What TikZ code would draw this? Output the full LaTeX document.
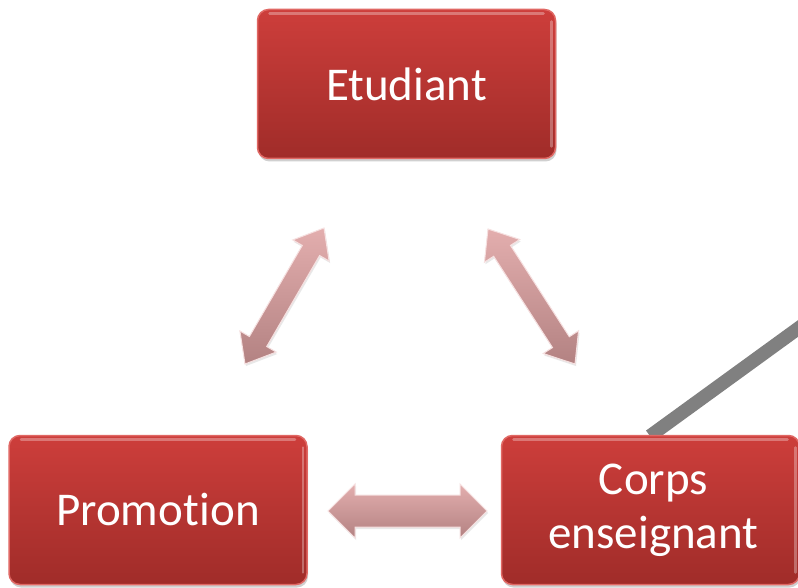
\documentclass[tikz,border=0pt]{standalone}
\usepackage{fontspec}
\setmainfont[RawFeature={-liga;-clig;-calt;-dlig}]{Carlito}
\usetikzlibrary{calc,shadows}
\definecolor{boxtop}{HTML}{CD3E3B}
\definecolor{boxbot}{HTML}{A02C29}
\definecolor{boxedge}{HTML}{E06864}
\definecolor{arrtop}{HTML}{E3AEAE}
\definecolor{arrbot}{HTML}{B38282}
\definecolor{arredge}{HTML}{F6E0E0}
\definecolor{linegray}{HTML}{808080}
\newcommand\dblarr[5]{%
  \path[arrowshape] (#1) -- ($(#1)!#5!(#2)!#4!90:(#2)$) -- ($(#1)!#5!(#2)!#3!90:(#2)$)
    -- ($(#2)!#5!(#1)!#3!-90:(#1)$) -- ($(#2)!#5!(#1)!#4!-90:(#1)$) -- (#2)
    -- ($(#2)!#5!(#1)!#4!90:(#1)$) -- ($(#2)!#5!(#1)!#3!90:(#1)$)
    -- ($(#1)!#5!(#2)!#3!-90:(#2)$) -- ($(#1)!#5!(#2)!#4!-90:(#2)$) -- cycle;}
\begin{document}
\begin{tikzpicture}[x=1pt,y=-1pt,
  box/.style={rectangle, rounded corners=11pt, minimum width=298pt, minimum height=149pt,
    inner sep=0pt, top color=boxtop, bottom color=boxbot, draw=boxedge, line width=1.5pt,
    text=white, font=\fontsize{47}{54}\selectfont, align=center,
    drop shadow={shadow xshift=1pt, shadow yshift=-3pt, opacity=0.3, fill=black!60},
    path picture={
      \draw[white, opacity=0.3, line width=2.5pt, line cap=round]
        ([xshift=12pt,yshift=-4pt]path picture bounding box.north west) --
        ([xshift=-12pt,yshift=-4pt]path picture bounding box.north east);
      \draw[white, opacity=0.3, line width=2.5pt, line cap=round]
        ([xshift=-4pt,yshift=-12pt]path picture bounding box.north east) --
        ([xshift=-4pt,yshift=12pt]path picture bounding box.south east);}},
  arrowshape/.style={top color=arrtop, bottom color=arrbot, draw=arredge, line width=1pt,
    drop shadow={shadow xshift=1pt, shadow yshift=-2pt, opacity=0.15, fill=black!60}}]
\clip (0,0) rectangle (798,588);
\fill[white] (0,0) rectangle (798,588);
% gray line
\coordinate (g1) at (650,436);
\coordinate (g2) at (840,298);
\draw[linegray, line width=13.5pt] (g1) -- (g2);
% boxes
\node[box] (etu) at (406.5,84) {Etudiant};
\node[box] (pro) at (158,510) {Promot\kern0.5pt ion};
\node[box] (cor) at (650.5,510) {\hspace*{6pt}Corps\\\hspace*{6pt}enseignant};
% arrows
\coordinate (l1) at (245,364);
\coordinate (l2) at (324,228);
\dblarr{l1}{l2}{10pt}{21pt}{26pt}
\coordinate (r1) at (488,229);
\coordinate (r2) at (575,364);
\dblarr{r1}{r2}{10pt}{21pt}{26pt}
\coordinate (h1) at (328,511);
\coordinate (h2) at (487,511);
\dblarr{h1}{h2}{16pt}{27pt}{27pt}
\end{tikzpicture}
\end{document}
